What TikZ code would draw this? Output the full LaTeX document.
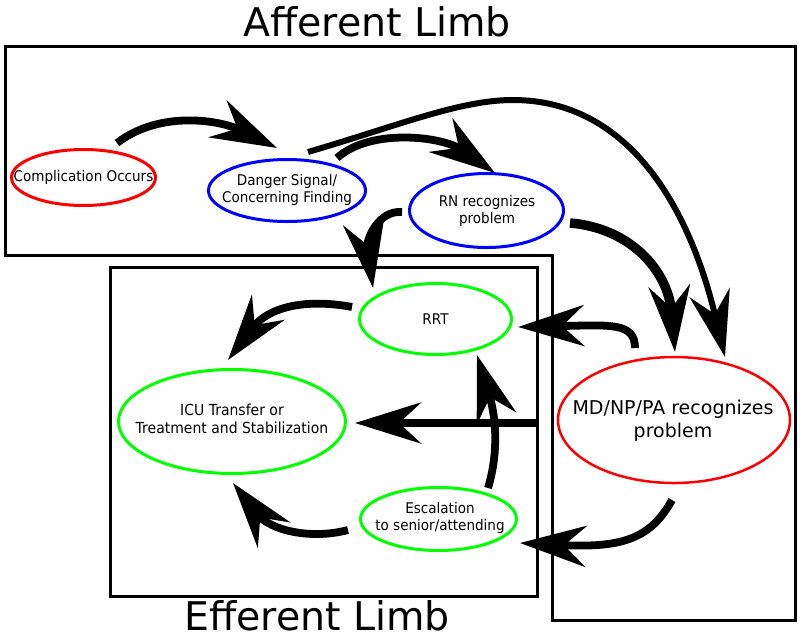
\documentclass[tikz,border=0pt]{standalone}
\usepackage{fontspec}
\setmainfont{DejaVu Sans}
\newfontfamily\cfont[FakeStretch=0.92]{DejaVu Sans}
\usetikzlibrary{arrows.meta,shapes.geometric}
\definecolor{ered}{RGB}{255,0,0}
\definecolor{eblue}{RGB}{0,0,255}
\definecolor{egreen}{RGB}{0,255,0}
\begin{document}
\begin{tikzpicture}[x=1pt,y=-1pt,
  box/.style={draw=black, line width=3pt},
  bub/.style={shape=ellipse, draw, line width=3pt, inner sep=0pt, outer sep=0pt},
  lbl/.style={font=\cfont\fontsize{14.7}{16.8}\selectfont, align=center, inner sep=0pt},
  flow/.style={line width=7.8pt, -{Stealth[length=66pt,width=41pt,inset=22pt]}},
  title/.style={font=\fontsize{39.5}{45}\selectfont, anchor=base, inner sep=0pt}]
\useasboundingbox (0,0) rectangle (800,638);

% titles
\node[title] (afft) at (377,36) {Afferent Limb};
\node[title] (efft) at (317,630) {Efferent Limb};

% limb boxes
\draw[box] (5,46) -- (795,46) -- (795,620) -- (552.5,620) -- (552.5,255) -- (5,255) -- cycle;
\draw[box] (110,267) rectangle (537.5,596);

% ellipses
\node[bub, draw=ered, minimum width=144pt, minimum height=56pt] (comp) at (83.5,177.5) {};
\node[lbl] (compt) at (83.5,177.5) {Complication Occurs};
\node[bub, draw=eblue, minimum width=157pt, minimum height=62pt] (danger) at (287,190.5) {};
\node[lbl] (dangert) at (287,190) {Danger Signal/\\Concerning Finding};
\node[bub, draw=eblue, minimum width=154pt, minimum height=74pt] (rn) at (486.5,210.5) {};
\node[lbl] (rnt) at (487,211) {RN recognizes\\problem};
\node[bub, draw=egreen, minimum width=152pt, minimum height=71pt] (rrt) at (435.5,319) {};
\node[lbl] (rrtt) at (435.5,319) {RRT};
\node[bub, draw=egreen, minimum width=227pt, minimum height=104pt] (icu) at (232,421.5) {};
\node[lbl, font=\cfont\fontsize{15.2}{17.8}\selectfont] (icut) at (232,419) {ICU Transfer or\\Treatment and Stabilization};
\node[bub, draw=egreen, minimum width=156pt, minimum height=63pt] (esc) at (438.5,519) {};
\node[lbl] (esct) at (440,518) {Escalation\\to senior/attending};
\node[bub, draw=ered, line width=2.5pt, minimum width=232pt, minimum height=126pt] (md) at (674,420) {};
\node[lbl, font=\fontsize{19}{23.3}\selectfont] (mdt) at (673,421) {MD/NP/PA recognizes\\problem};

% connector end points
\coordinate (a1s) at (117,143);  \coordinate (a1e) at (277,148);
\coordinate (a2s) at (337,158);  \coordinate (a2e) at (495,173);
\coordinate (a3s) at (308,152);  \coordinate (a3m) at (513,100); \coordinate (a3e) at (725,357);
\coordinate (a4s) at (570,223);  \coordinate (a4e) at (675,352);
\coordinate (a5s) at (402,212);  \coordinate (a5e) at (373,288);
\coordinate (a6s) at (635,348);  \coordinate (a6e) at (518,327);
\coordinate (a7s) at (537,423);  \coordinate (a7e) at (355,423);
\coordinate (a8s) at (352,307);  \coordinate (a8e) at (228,360);
\coordinate (a9s) at (348,530);  \coordinate (a9e) at (233,483);
\coordinate (a10s) at (488,488); \coordinate (a10e) at (477,355);
\coordinate (a11s) at (672,500); \coordinate (a11e) at (520,543);

% connectors
\draw[flow] (a1s) .. controls (160,110) and (220,120) .. (a1e);
\draw[flow] (a2s) .. controls (370,128) and (442,136) .. (a2e);
\draw[flow, line width=6pt] (a3s) .. controls (400,125) and (460,100) .. (a3m)
   .. controls (630,100) and (690,210) .. (a3e);
\draw[flow, line width=9.5pt] (a4s) .. controls (630,228) and (668,270) .. (a4e);
\draw[flow] (a5s) .. controls (378,210) and (366,240) .. (a5e);
\draw[flow] (a6s) .. controls (635,322) and (610,325) .. (a6e);
\draw[flow] (a7s) -- (a7e);
\draw[flow] (a8s) .. controls (310,299) and (270,305) .. (a8e);
\draw[flow] (a9s) .. controls (310,540) and (270,530) .. (a9e);
\draw[flow] (a10s) .. controls (498,455) and (497,420) .. (a10e);
\draw[flow] (a11s) .. controls (650,540) and (620,548) .. (a11e);
\end{tikzpicture}
\end{document}
